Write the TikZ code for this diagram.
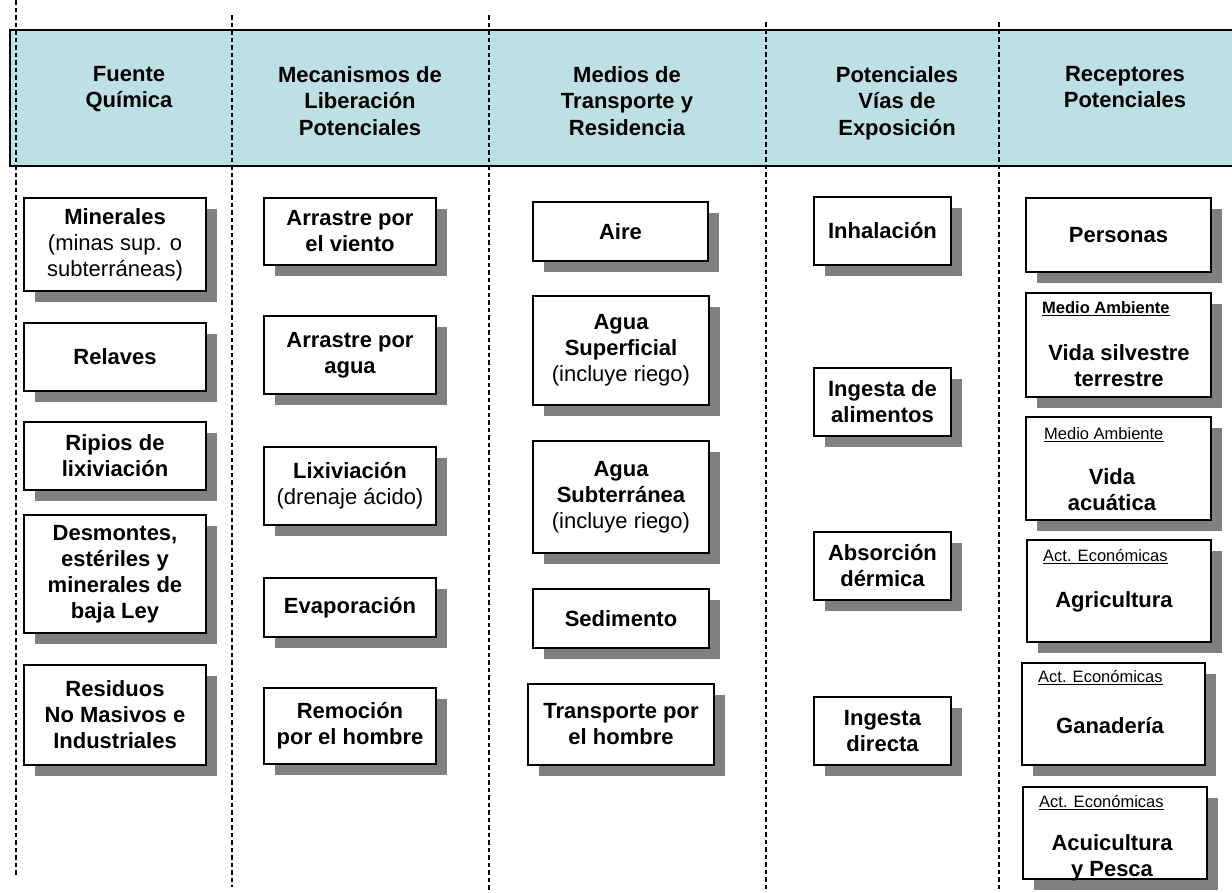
\documentclass[tikz,border=0pt]{standalone}
\usepackage{fontspec}
\setmainfont{Liberation Sans}
\usetikzlibrary{shadows}

\definecolor{headfill}{RGB}{188,224,227}
\definecolor{shadowgray}{RGB}{128,128,128}

\tikzset{
  stepbox/.style={draw=black, line width=1.6pt, fill=white, inner sep=0pt, align=center,
    font=\fontsize{22}{26}\selectfont\bfseries,
    drop shadow={shadow xshift=11pt, shadow yshift=-11pt, fill=shadowgray, draw=none, opacity=1}},
  coltitle/.style={anchor=north, inner sep=0pt, align=center,
    font=\fontsize{22}{26.5}\selectfont\bfseries},
  tag/.style={anchor=base west, inner sep=0pt, font=\fontsize{16.5}{19}\selectfont},
  tagline/.style={line width=1.1pt},
  recv/.style={anchor=north, inner sep=0pt, align=center,
    font=\fontsize{22}{26}\selectfont\bfseries},
  divider/.style={draw=black, line width=1.2pt, dash pattern=on 4.5pt off 3pt},
}

\begin{document}
\begin{tikzpicture}[x=1pt, y=-1pt]
\useasboundingbox (0,0) rectangle (1232,892);

% title band
\fill[headfill] (10,30) rectangle (1232,166);
\draw[line width=1.6pt] (1232,30) -- (10,30) -- (10,166) -- (1232,166);

% column dividers
\coordinate (c1t) at (16,0);    \coordinate (c1b) at (16,877);
\coordinate (c2t) at (232,15);  \coordinate (c2b) at (232,887);
\coordinate (c3t) at (489,15);  \coordinate (c3b) at (489,892);
\coordinate (c4t) at (766,22);  \coordinate (c4b) at (766,892);
\coordinate (c5t) at (999,22);  \coordinate (c5b) at (999,892);
\draw[divider] (c1t) -- (c1b);
\draw[divider] (c2t) -- (c2b);
\draw[divider] (c3t) -- (c3b);
\draw[divider] (c4t) -- (c4b);
\draw[divider] (c5t) -- (c5b);

% column titles
\node[coltitle] (t1) at (129,66)  {Fuente\\Química};
\node[coltitle] (t2) at (360,66)  {Mecanismos de\\Liberación\\Potenciales};
\node[coltitle] (t3) at (627,66)  {Medios de\\Transporte y\\Residencia};
\node[coltitle] (t4) at (897,66)  {Potenciales\\Vías de\\Exposición};
\node[coltitle] (t5) at (1125,66) {Receptores\\Potenciales};

% chemical sources
\node[stepbox, minimum width=182pt, minimum height=93pt]  (min) at (115,244.5)
  {Minerales\\{\mdseries (minas sup. o}\\{\mdseries subterráneas)}};
\node[stepbox, minimum width=182pt, minimum height=68pt]  (rel) at (115,357) {Relaves};
\node[stepbox, minimum width=182pt, minimum height=68pt]  (rip) at (115,456) {Ripios de\\lixiviación};
\node[stepbox, minimum width=182pt, minimum height=118pt] (des) at (115,574)
  {Desmontes,\\estériles y\\minerales de\\baja Ley};
\node[stepbox, minimum width=182pt, minimum height=100pt] (res) at (115,715)
  {Residuos\\No Masivos e\\Industriales};

% release mechanisms
\node[stepbox, minimum width=172pt, minimum height=67pt] (vie) at (350,231.5) {Arrastre por\\el viento};
\node[stepbox, minimum width=172pt, minimum height=78pt] (agu) at (350,355) {Arrastre por\\agua};
\node[stepbox, minimum width=172pt, minimum height=78pt] (lix) at (350,486)
  {Lixiviación\\{\mdseries (drenaje ácido)}};
\node[stepbox, minimum width=172pt, minimum height=59pt] (eva) at (350,607.5) {Evaporación};
\node[stepbox, minimum width=172pt, minimum height=76pt] (rem) at (350,726) {Remoción\\por el hombre};

% transport media
\node[stepbox, minimum width=175pt, minimum height=59pt]  (aire) at (620.5,231.5) {Aire};
\node[stepbox, minimum width=176pt, minimum height=109pt] (asup) at (621,350.5)
  {Agua\\Superficial\\{\mdseries (incluye riego)}};
\node[stepbox, minimum width=176pt, minimum height=112pt] (asub) at (621,497)
  {Agua\\Subterránea\\{\mdseries (incluye riego)}};
\node[stepbox, minimum width=176pt, minimum height=59pt]  (sed) at (621,618.5) {Sedimento};
\node[stepbox, minimum width=186pt, minimum height=81pt]  (tra) at (621,724.5) {Transporte por\\el hombre};

% exposure routes
\node[stepbox, minimum width=137pt, minimum height=68pt] (inh) at (882.5,231) {Inhalación};
\node[stepbox, minimum width=137pt, minimum height=68pt] (ial) at (882.5,402) {Ingesta de\\alimentos};
\node[stepbox, minimum width=137pt, minimum height=68pt] (abs) at (882.5,566) {Absorción\\dérmica};
\node[stepbox, minimum width=137pt, minimum height=68pt] (idi) at (882.5,731) {Ingesta\\directa};

% receptors
\node[stepbox, minimum width=185pt, minimum height=74pt]  (per)  at (1118.5,235) {Personas};
\node[stepbox, minimum width=185pt, minimum height=104pt] (vsil) at (1118.5,345) {};
\node[stepbox, minimum width=185pt, minimum height=103pt] (vacu) at (1118.5,468.5) {};
\node[stepbox, minimum width=184pt, minimum height=102pt] (agri) at (1119,591) {};
\node[stepbox, minimum width=183pt, minimum height=102pt] (gana) at (1113.5,714) {};
\node[stepbox, minimum width=184pt, minimum height=92pt]  (acui) at (1115,833) {};

\node[tag, font=\fontsize{16.5}{19}\selectfont\bfseries] (vsiltag) at (1042,313) {Medio Ambiente};
\node[tag] (vacutag) at (1044,439) {Medio Ambiente};
\node[tag] (agritag) at (1043,561) {Act. Económicas};
\node[tag] (ganatag) at (1038,682) {Act. Económicas};
\node[tag] (acuitag) at (1039,807) {Act. Económicas};
\foreach \t in {vsiltag,vacutag,agritag,ganatag,acuitag}
  \draw[tagline] ([yshift=-2.5pt]\t.base west) -- ([yshift=-2.5pt]\t.base east);

\node[recv] (vsiltxt) at (1119,344) {Vida silvestre\\terrestre};
\node[recv] (vacutxt) at (1112,468) {Vida\\acuática};
\node[recv] (agritxt) at (1114,591) {Agricultura};
\node[recv] (ganatxt) at (1110,717) {Ganadería};
\node[recv] (acuitxt) at (1112,834) {Acuicultura\\y Pesca};
\end{tikzpicture}
\end{document}
